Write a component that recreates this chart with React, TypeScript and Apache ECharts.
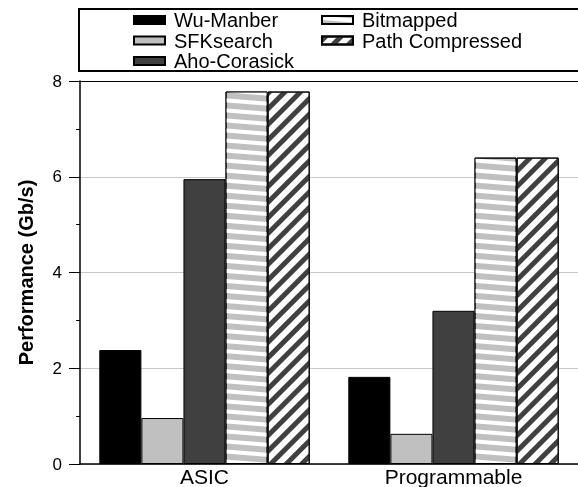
import React, { useEffect, useRef } from "react";
import * as echarts from "echarts";

const categories = ["ASIC", "Programmable"];
const seriesNames = ["Wu-Manber", "SFKsearch", "Aho-Corasick", "Bitmapped", "Path Compressed"];
const wuManber = [2.38, 1.82];
const sfkSearch = [0.96, 0.63];
const ahoCorasick = [5.95, 3.2];
const bitmapped = [7.78, 6.4];
const pathCompressed = [7.78, 6.4];
const yMin = 0;
const yMax = 8;
const yInterval = 2;

const FONT = "'Liberation Sans', Arial, Helvetica, sans-serif";

export default function App() {
  const ref = useRef<HTMLDivElement>(null);
  useEffect(() => {
    if (!ref.current) return;
    const chart = echarts.init(ref.current, undefined, { renderer: "svg" });
    const barBase = {
      type: "bar" as const,
      barGap: "0%",
      barCategoryGap: "15.5%",
      xAxisIndex: 0,
    };
    const legendCommon = {
      orient: "vertical" as const,
      top: 10,
      padding: 0,
      icon: "rect",
      itemWidth: 31,
      itemHeight: 8,
      itemGap: 0.5,
      textStyle: {
        fontSize: 20,
        lineHeight: 20,
        fontFamily: FONT,
        color: "#000",
        padding: [0, 0, 0, 4],
      },
    };
    chart.setOption({
      animation: false,
      textStyle: { fontFamily: FONT },
      grid: { left: 80, top: 81, right: -6, bottom: 21 },
      legend: [
        { ...legendCommon, left: 133, data: seriesNames.slice(0, 3) },
        { ...legendCommon, left: 321, data: seriesNames.slice(3) },
      ],
      graphic: [
        {
          type: "rect",
          shape: { x: 79, y: 9, width: 540, height: 62 },
          style: { fill: "none", stroke: "#000", lineWidth: 2 },
          z: 1,
        },
      ],
      xAxis: [
        {
          type: "category",
          data: categories,
          position: "bottom",
          axisLine: { show: true, lineStyle: { color: "#000", width: 1.5 } },
          axisTick: { show: false },
          axisLabel: { fontSize: 21, color: "#000", margin: 2, fontFamily: FONT },
        },
        {
          type: "category",
          data: categories,
          position: "top",
          axisLine: { show: true, lineStyle: { color: "#000", width: 1 } },
          axisTick: { show: false },
          axisLabel: { show: false },
        },
      ],
      yAxis: {
        type: "value",
        min: yMin,
        max: yMax,
        interval: yInterval,
        name: "Performance (Gb/s)",
        nameLocation: "middle",
        nameGap: 44,
        nameTextStyle: { fontSize: 20, fontWeight: "bold", color: "#000", fontFamily: FONT },
        axisLine: { show: true, lineStyle: { color: "#000", width: 1.5 } },
        axisTick: { show: true, length: 11, lineStyle: { color: "#000", width: 1 } },
        minorTick: { show: true, splitNumber: 2, length: 4, lineStyle: { color: "#000", width: 1 } },
        splitLine: { show: true, lineStyle: { color: "#c8c8c8", width: 1 } },
        axisLabel: { fontSize: 17, color: "#000", margin: 18, fontFamily: FONT },
      },
      series: [
        {
          ...barBase,
          name: seriesNames[0],
          data: wuManber,
          itemStyle: { color: "#000", borderColor: "#000", borderWidth: 1 },
        },
        {
          ...barBase,
          name: seriesNames[1],
          data: sfkSearch,
          itemStyle: { color: "#c0c0c0", borderColor: "#000", borderWidth: 1 },
        },
        {
          ...barBase,
          name: seriesNames[2],
          data: ahoCorasick,
          itemStyle: { color: "#404040", borderColor: "#000", borderWidth: 1 },
        },
        {
          ...barBase,
          name: seriesNames[3],
          data: bitmapped,
          itemStyle: {
            color: "#c0c0c0",
            borderColor: "#000",
            borderWidth: 1,
            decal: {
              symbol: "rect",
              symbolSize: 1,
              color: "#ffffff",
              dashArrayX: [1, 0],
              dashArrayY: [4, 6],
              rotation: 0.08,
            },
          },
        },
        {
          ...barBase,
          name: seriesNames[4],
          data: pathCompressed,
          itemStyle: {
            color: "#ffffff",
            borderColor: "#000",
            borderWidth: 1,
            decal: {
              symbol: "rect",
              symbolSize: 1,
              color: "#404040",
              dashArrayX: [1, 0],
              dashArrayY: [4.5, 5.5],
              rotation: -Math.PI / 4,
            },
          },
        },
      ],
    });
    return () => chart.dispose();
  }, []);
  return (
    <div
      ref={ref}
      style={{ position: "fixed", left: 0, top: 0, width: "578px", height: "487px" }}
    />
  );
}
